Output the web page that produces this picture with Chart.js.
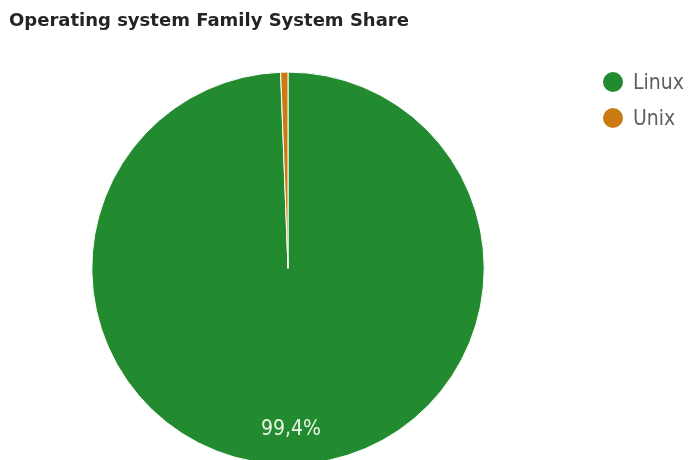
<!DOCTYPE html>
<html>
<head>
<meta charset="utf-8">
<script src="https://cdn.jsdelivr.net/npm/chart.js@4.4.1/dist/chart.umd.min.js"></script>
<style>
  html, body { margin: 0; padding: 0; background: #fff; overflow: hidden; }
  #wrap { position: relative; width: 690px; height: 465px; }
  #legend {
    position: absolute; left: 603px; top: 72px;
    font-family: "DejaVu Sans Condensed"; font-size: 21px; color: #605E5C;
  }
  .item { display: flex; align-items: center; height: 20px; margin-bottom: 16px; }
  .dot { width: 20px; height: 20px; border-radius: 50%; margin-right: 10px; }
</style>
</head>
<body>
<div id="wrap">
  <canvas id="share-chart"></canvas>
  <div id="legend"></div>
</div>
<script>
// share of systems per OS family (percent)
const families = ["Linux", "Unix"];
const shares = [99.4, 0.6];
const sliceColors = ["#228B30", "#C97B12"];

Chart.defaults.font.family = "'DejaVu Sans Condensed'";

// percentage written inside the big slice
const sliceLabels = {
  id: "sliceLabels",
  afterDatasetsDraw(chart) {
    const ctx = chart.ctx;
    const meta = chart.getDatasetMeta(0);
    const total = shares.reduce((a, b) => a + b, 0);
    ctx.save();
    ctx.font = "21px 'DejaVu Sans Condensed'";
    ctx.fillStyle = "#E9F4E4";
    ctx.textAlign = "center";
    ctx.textBaseline = "middle";
    meta.data.forEach((arc, i) => {
      const pct = shares[i] / total * 100;
      if (pct < 5) return;
      const p = arc.getProps(["x", "y", "startAngle", "endAngle", "outerRadius"], true);
      const mid = (p.startAngle + p.endAngle) / 2;
      const r = p.outerRadius * 0.82;
      ctx.fillText(pct.toFixed(1).replace(".", ",") + "%", p.x + Math.cos(mid) * r, p.y + Math.sin(mid) * r);
    });
    ctx.restore();
  }
};

var ctx = document.getElementById("share-chart").getContext("2d");

var shareChart = new Chart(ctx, {
  type: "pie",
  data: {
    labels: families,
    datasets: [
      {
        data: shares,
        backgroundColor: sliceColors,
        borderColor: "#ffffff",
        borderWidth: 1,
      },
    ],
  },
  options: {
    responsive: true,
    maintainAspectRatio: false,
    animation: false,
    layout: {
      padding: { left: 9, right: 123, top: 0, bottom: 0 },
    },
    plugins: {
      legend: { display: false },
      tooltip: { enabled: false },
      title: {
        display: true,
        text: "Operating system Family System Share",
        align: "start",
        color: "#252423",
        font: { family: "'DejaVu Sans'", size: 18, weight: "bold" },
        padding: { top: 11, bottom: 39 },
      },
    },
  },
  plugins: [sliceLabels],
});

// legend built from the chart data
var legendBox = document.getElementById("legend");
shareChart.data.labels.forEach((name, i) => {
  var row = document.createElement("div");
  row.className = "item";
  var dot = document.createElement("span");
  dot.className = "dot";
  dot.style.background = shareChart.data.datasets[0].backgroundColor[i];
  var txt = document.createElement("span");
  txt.textContent = name;
  row.appendChild(dot);
  row.appendChild(txt);
  legendBox.appendChild(row);
});
</script>
</body>
</html>
